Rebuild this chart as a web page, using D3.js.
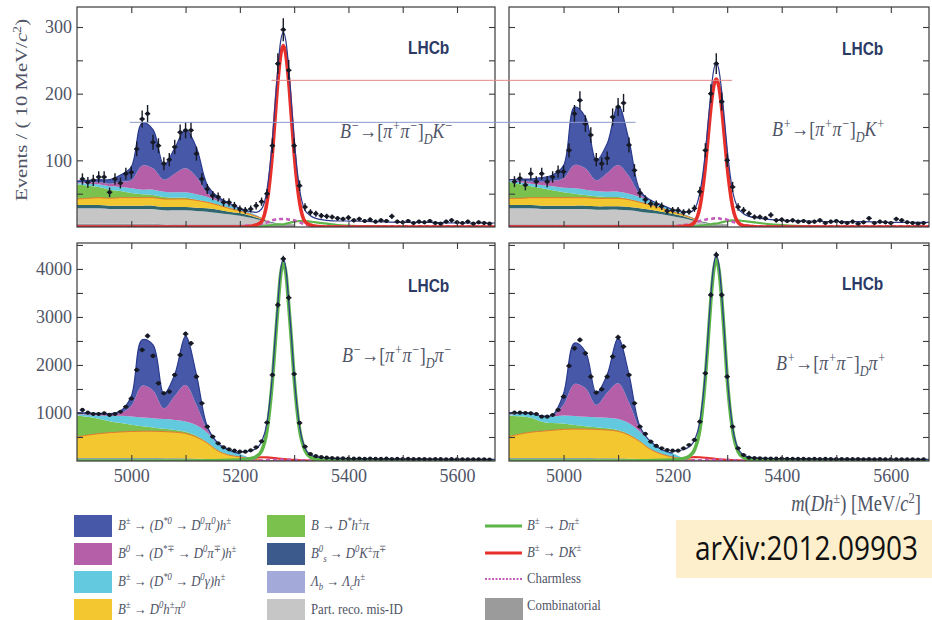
<!DOCTYPE html>
<html>
<head>
<meta charset="utf-8">
<script src="https://cdn.jsdelivr.net/npm/d3@7"></script>
<style>
body { margin: 0; background: #fff; }
svg { display: block; font-family: "Liberation Serif", "DejaVu Serif", serif; }
</style>
</head>
<body>
<svg id="chart" width="932" height="620"></svg>
<script>
var width = 932, height = 620;

// ---- binning / grids ----
var massRange = [4900, 5670];
var binMass = d3.range(4910, 5670, 10);   // 10 MeV bin centres
var bkgMass = [4900, 4920, 4940, 4960, 4980, 5000, 5020, 5040, 5060, 5080, 5100, 5120, 5140, 5160, 5180, 5200, 5220, 5240, 5260, 5280, 5300];
var peakMass = [4900, 5000, 5100, 5200, 5210, 5220, 5230, 5240, 5250, 5260, 5265, 5270, 5275, 5280, 5285, 5290, 5295, 5300, 5310, 5320, 5330, 5340, 5360, 5380, 5400, 5450, 5500, 5550, 5600, 5670];
var xTicks = [5000, 5100, 5200, 5300, 5400, 5500, 5600];
var xTickLabels = [5000, 5200, 5400, 5600];
var yTicksTop = [50, 100, 150, 200, 250, 300];
var yTicksBottom = [500, 1000, 1500, 2000, 2500, 3000, 3500, 4000, 4500];

// ---- B- -> [pi pi]_D K- (top left) ----
var tlData = [72, 67, 70, 75, 75, 52, 72, 66, 80, 82,
  117, 162, 170, 127, 122, 95, 101, 120, 142, 145,
  145, 110, 72, 57, 47, 45, 37, 37, 32, 27,
  25, 27, 32, 38, 50, 122, 245, 296, 235, 122,
  62, 30, 22, 20, 17, 16, 15, 13, 12, 14,
  10, 12, 9, 11, 8, 10, 9, 16, 8, 7,
  9, 6, 8, 7, 9, 6, 5, 8, 10, 7,
  6, 8, 5, 7, 6, 5];
var tlComb = [5, 5, 5, 5, 5, 5, 5, 5, 4, 4, 4, 4, 4, 4, 4, 4, 4, 4, 4, 4, 4];
var tlMisid = [23, 23, 23, 22, 22, 22, 22, 22, 21, 21, 21, 20, 19, 17, 15, 13, 10, 6, 2, 0, 0];
var tlBs = [5, 5, 5, 5, 5, 5, 5, 5, 5, 5, 5, 5, 5, 5, 4, 4, 3, 2, 1, 0, 0];
var tlYellow = [9, 10, 11, 11, 12, 12, 12, 12, 12, 12, 12, 11, 9, 7, 5, 3, 2, 1, 0, 0, 0];
var tlGreen = [22, 19, 16, 13, 10, 7, 5, 4, 3, 2, 2, 1, 1, 0, 0, 0, 0, 0, 0, 0, 0];
var tlCyan = [2, 3, 4, 5, 6, 7, 7, 8, 8, 8, 8, 8, 7, 6, 5, 3, 2, 1, 0, 0, 0];
var tlMagenta = [1, 2, 3, 4, 8, 12, 36, 32, 18, 28, 36, 26, 6, 2, 1, 0, 0, 0, 0, 0, 0];
var tlBlue = [2, 3, 4, 6, 10, 20, 64, 58, 22, 38, 58, 44, 12, 4, 2, 1, 0, 0, 0, 0, 0];
var tlSignal = [0, 0, 0, 0, 0, 1, 3, 8, 37, 111, 165, 218, 257, 272, 257, 218, 165, 111, 37, 8, 3, 1, 0, 0, 0, 0, 0, 0, 0, 0];
var tlCross = [0, 0, 0, 0, 0, 0, 0, 1, 2, 3, 4, 4, 4, 4, 5, 6, 7, 8, 9, 9, 8, 7, 5, 3, 2, 1, 0, 0, 0, 0];
var tlCharm = [1, 1, 1, 1, 2, 2, 3, 5, 7, 10, 11, 11, 12, 12, 12, 11, 11, 10, 7, 4, 2, 1, 1, 1, 1, 1, 1, 1, 1, 1];
var tlFit = [null, null, null, 28, 25, 23, 22, 27, 56, 131, 186, 238, 278, 292, 278, 239, 186, 133, 57, 25, 17, 13, 10, 9, 9, 8, 7, 7, 6, 6];

// ---- B+ -> [pi pi]_D K+ (top right) ----
var trData = [68, 73, 63, 80, 68, 80, 68, 75, 83, 83,
  115, 170, 190, 155, 138, 101, 95, 103, 165, 180,
  186, 123, 85, 51, 41, 35, 34, 31, 24, 25,
  25, 22, 23, 28, 53, 115, 200, 245, 188, 100,
  60, 30, 25, 20, 15, 15, 13, 18, 10, 11,
  9, 10, 8, 9, 7, 8, 10, 6, 8, 9,
  7, 6, 8, 5, 7, 13, 6, 8, 7, 6,
  12, 10, 7, 6, 5, 6];
var trComb = [4, 4, 4, 4, 4, 4, 4, 4, 4, 4, 4, 4, 4, 4, 4, 4, 4, 4, 4, 4, 4];
var trMisid = [24, 24, 24, 23, 23, 23, 23, 23, 22, 22, 22, 21, 19, 17, 15, 12, 9, 5, 2, 0, 0];
var trBs = [5, 5, 5, 5, 5, 5, 5, 5, 5, 5, 5, 5, 5, 5, 4, 4, 3, 2, 1, 0, 0];
var trYellow = [10, 10, 11, 12, 12, 12, 12, 12, 12, 12, 12, 11, 9, 7, 5, 3, 2, 1, 0, 0, 0];
var trGreen = [25, 21, 17, 14, 11, 8, 6, 4, 3, 2, 2, 1, 1, 0, 0, 0, 0, 0, 0, 0, 0];
var trCyan = [2, 3, 4, 5, 6, 7, 8, 8, 8, 8, 8, 8, 7, 6, 5, 3, 2, 1, 0, 0, 0];
var trMagenta = [0, 2, 3, 5, 8, 14, 35, 32, 16, 28, 40, 26, 4, 1, 0, 0, 0, 0, 0, 0, 0];
var trBlue = [1, 3, 4, 6, 9, 19, 87, 77, 30, 44, 90, 54, 6, 0, 0, 0, 0, 0, 0, 0, 0];
var trSignal = [0, 0, 0, 0, 0, 1, 2, 7, 30, 91, 135, 178, 210, 222, 210, 178, 135, 91, 30, 7, 2, 1, 0, 0, 0, 0, 0, 0, 0, 0];
var trCross = [0, 0, 0, 0, 0, 0, 0, 1, 2, 3, 4, 4, 5, 5, 6, 7, 8, 9, 10, 10, 9, 8, 6, 4, 3, 1, 0, 0, 0, 0];
var trCharm = [1, 1, 1, 1, 2, 3, 4, 6, 9, 11, 12, 12, 13, 13, 13, 12, 12, 11, 8, 5, 3, 2, 1, 1, 1, 1, 1, 1, 1, 1];
var trFit = [null, null, null, 26, 24, 23, 22, 27, 52, 112, 157, 200, 234, 246, 235, 203, 161, 117, 54, 28, 20, 16, 13, 11, 10, 9, 8, 8, 7, 7];

// ---- B- -> [pi pi]_D pi- (bottom left) ----
var blData = [1063, 1006, 979, 979, 994, 960, 979, 1026, 1130, 1300,
  1896, 2313, 2604, 2188, 1618, 1410, 1444, 1792, 2208, 2646,
  2451, 1757, 1201, 715, 507, 368, 285, 243, 215, 194,
  194, 222, 285, 410, 800, 1792, 3250, 4210, 3400, 1812,
  792, 299, 146, 100, 80, 70, 60, 55, 55, 50,
  48, 52, 45, 50, 47, 44, 48, 42, 45, 40,
  44, 38, 42, 40, 36, 40, 38, 35, 38, 34,
  36, 33, 35, 32, 34, 30];
var blComb = [20, 20, 20, 20, 20, 20, 20, 20, 20, 20, 20, 20, 20, 20, 20, 20, 20, 20, 20, 20, 20];
var blMisid = [30, 30, 30, 30, 30, 30, 30, 30, 28, 26, 24, 20, 16, 12, 8, 5, 3, 1, 0, 0, 0];
var blBs = [10, 10, 10, 10, 10, 10, 10, 10, 10, 10, 10, 9, 8, 6, 4, 2, 1, 0, 0, 0, 0];
var blYellow = [440, 480, 510, 530, 545, 555, 560, 560, 555, 545, 520, 450, 330, 170, 90, 60, 15, 5, 0, 0, 0];
var blGreen = [450, 380, 310, 240, 185, 140, 105, 80, 60, 45, 35, 25, 15, 10, 5, 2, 0, 0, 0, 0, 0];
var blCyan = [20, 40, 70, 110, 150, 170, 180, 190, 200, 210, 215, 220, 200, 130, 90, 60, 10, 2, 0, 0, 0];
var blMagenta = [10, 12, 15, 25, 60, 220, 660, 580, 224, 500, 759, 420, 60, 5, 2, 0, 0, 0, 0, 0, 0];
var blBlue = [30, 28, 25, 20, 40, 205, 960, 950, 303, 444, 1017, 636, 71, 17, 8, 3, 0, 0, 0, 0, 0];
var blSignal = [0, 0, 0, 20, 30, 50, 90, 210, 640, 1690, 2450, 3200, 3870, 4120, 3900, 3250, 2520, 1720, 660, 220, 80, 35, 15, 8, 5, 2, 1, 0, 0, 0];
var blCross = [0, 0, 0, 20, 35, 55, 70, 78, 75, 65, 58, 52, 46, 40, 35, 30, 26, 22, 16, 11, 8, 5, 2, 1, 0, 0, 0, 0, 0, 0];
var blCharm = [0, 0, 0, 2, 3, 5, 8, 12, 18, 22, 24, 25, 26, 26, 26, 25, 24, 22, 18, 12, 7, 4, 1, 0, 0, 0, 0, 0, 0, 0];
var blFit = [null, null, null, 190, 195, 215, 260, 400, 800, 1800, 2560, 3300, 3960, 4210, 3990, 3330, 2590, 1790, 720, 270, 130, 85, 60, 50, 45, 42, 40, 38, 35, 32];

// ---- B+ -> [pi pi]_D pi+ (bottom right) ----
var brData = [1007, 1007, 1000, 993, 979, 924, 924, 958, 1063, 1340,
  1979, 2347, 2521, 2243, 1757, 1424, 1493, 1757, 2174, 2576,
  2382, 1792, 1201, 715, 563, 403, 313, 264, 229, 215,
  215, 264, 333, 438, 819, 1826, 3458, 4292, 3458, 1757,
  715, 264, 125, 70, 60, 55, 52, 50, 48, 50,
  45, 47, 44, 46, 42, 45, 40, 43, 41, 38,
  42, 39, 37, 40, 36, 38, 35, 37, 34, 36,
  33, 35, 32, 34, 31, 33];
var brComb = [20, 20, 20, 20, 20, 20, 20, 20, 20, 20, 20, 20, 20, 20, 20, 20, 20, 20, 20, 20, 20];
var brMisid = [30, 30, 30, 30, 30, 30, 30, 30, 28, 26, 24, 20, 16, 12, 8, 5, 3, 1, 0, 0, 0];
var brBs = [10, 10, 10, 10, 10, 10, 10, 10, 10, 10, 10, 9, 8, 6, 4, 2, 1, 0, 0, 0, 0];
var brYellow = [450, 500, 540, 560, 580, 600, 605, 605, 600, 590, 565, 490, 360, 200, 110, 55, 20, 5, 0, 0, 0];
var brGreen = [440, 370, 300, 200, 150, 120, 85, 60, 45, 35, 25, 18, 12, 8, 4, 2, 0, 0, 0, 0, 0];
var brCyan = [20, 50, 80, 110, 140, 170, 185, 195, 210, 220, 230, 230, 200, 150, 90, 75, 15, 3, 0, 0, 0];
var brMagenta = [10, 12, 8, 5, 15, 220, 670, 600, 254, 520, 744, 430, 50, 2, 0, 0, 0, 0, 0, 0, 0];
var brBlue = [27, 15, 5, 5, 15, 230, 850, 760, 253, 379, 942, 583, 54, 2, 5, 0, 0, 0, 0, 0, 0];
var brSignal = [0, 0, 0, 20, 30, 50, 95, 230, 660, 1740, 2520, 3340, 3950, 4200, 3970, 3380, 2580, 1720, 640, 200, 75, 30, 12, 7, 4, 2, 1, 0, 0, 0];
var brCross = [0, 0, 0, 20, 35, 55, 70, 80, 78, 68, 60, 54, 48, 42, 36, 31, 27, 23, 17, 12, 8, 5, 2, 1, 0, 0, 0, 0, 0, 0];
var brCharm = [0, 0, 0, 2, 3, 5, 8, 12, 17, 21, 23, 24, 25, 25, 25, 24, 23, 21, 17, 12, 7, 4, 1, 0, 0, 0, 0, 0, 0, 0];
var brFit = [null, null, null, 210, 215, 240, 290, 430, 830, 1850, 2630, 3450, 4050, 4290, 4070, 3460, 2650, 1780, 700, 255, 125, 80, 60, 52, 48, 44, 41, 38, 36, 33];

// horizontal guide lines drawn on the slide (value, mass in left panel, mass in right panel)
var guideLevels = [220, 157];
var guideFrom = [5258, 4997];
var guideTo = [5309, 5132];
var guideColors = ["#e48a88", "#8d9bcc"];

// ---- styles ----
var layerKeys = ["comb", "misid", "bs", "dhpi0", "dstarhpi", "dstgamma", "b0dst", "dstpi0"];
var layerColor = {
  comb: "#9b9b9b", misid: "#c6c6c6", bs: "#2f6670", dhpi0: "#f3c72f",
  dstarhpi: "#7bc14e", dstgamma: "#63c9df", b0dst: "#b55fa9", dstpi0: "#4858a9"
};
var red = "#e8302b", green = "#5db54a", charmColor = "#c45cbc", fitColor = "#2a3a8c";
var textColor = "#4f5466";

var panels = [
  { x0: 77, x1: 495, y0: 7, y1: 227, yMax: 330, yTicks: yTicksTop, yLabelStep: 100, yLabels: true, xLabels: false,
    data: tlData, layers: [tlComb, tlMisid, tlBs, tlYellow, tlGreen, tlCyan, tlMagenta, tlBlue],
    signal: tlSignal, signalColor: red, cross: tlCross, crossColor: green, charm: tlCharm, fit: tlFit,
    decay: "B^{−}!{→[}π^{+}π^{−}!{]}_{D}K^{−}", decayPos: [340, 138], lhcbPos: [408, 54] },
  { x0: 509, x1: 929, y0: 7, y1: 227, yMax: 330, yTicks: yTicksTop, yLabelStep: 100, yLabels: false, xLabels: false,
    data: trData, layers: [trComb, trMisid, trBs, trYellow, trGreen, trCyan, trMagenta, trBlue],
    signal: trSignal, signalColor: red, cross: trCross, crossColor: green, charm: trCharm, fit: trFit,
    decay: "B^{+}!{→[}π^{+}π^{−}!{]}_{D}K^{+}", decayPos: [772, 136], lhcbPos: [842, 55] },
  { x0: 77, x1: 495, y0: 243, y1: 461, yMax: 4540, yTicks: yTicksBottom, yLabelStep: 1000, yLabels: true, xLabels: true,
    data: blData, layers: [blComb, blMisid, blBs, blYellow, blGreen, blCyan, blMagenta, blBlue],
    signal: blSignal, signalColor: green, cross: blCross, crossColor: red, charm: blCharm, fit: blFit,
    decay: "B^{−}!{→[}π^{+}π^{−}!{]}_{D}π^{−}", decayPos: [342, 362], lhcbPos: [408, 292] },
  { x0: 509, x1: 929, y0: 243, y1: 461, yMax: 4540, yTicks: yTicksBottom, yLabelStep: 1000, yLabels: false, xLabels: true,
    data: brData, layers: [brComb, brMisid, brBs, brYellow, brGreen, brCyan, brMagenta, brBlue],
    signal: brSignal, signalColor: green, cross: brCross, crossColor: red, charm: brCharm, fit: brFit,
    decay: "B^{+}!{→[}π^{+}π^{−}!{]}_{D}π^{+}", decayPos: [776, 370], lhcbPos: [842, 290] }
];

var svg = d3.select("#chart");
var guideLayer;

// text with ^{sup}, _{sub} and !{other style} pieces
function rich(sel, str, size, italic) {
  var parts = str.split(/(\^\{[^}]*\}|_\{[^}]*\}|!\{[^}]*\})/).filter(function(s) { return s.length; });
  var shift = 0;
  parts.forEach(function(s) {
    var target = 0, fs = size, ital = italic;
    if (s[0] === "^" && s[1] === "{") { target = -0.38 * size; fs = size * 0.68; s = s.slice(2, -1); }
    else if (s[0] === "_" && s[1] === "{") { target = 0.28 * size; fs = size * 0.68; s = s.slice(2, -1); }
    else if (s[0] === "!" && s[1] === "{") { ital = !italic; s = s.slice(2, -1); }
    sel.append("tspan").attr("dy", target - shift).attr("font-size", fs)
      .attr("font-style", ital ? "italic" : "normal").text(s);
    shift = target;
  });
}

panels.forEach(function(p, pi) {
  var x = d3.scaleLinear().domain(massRange).range([p.x0, p.x1]);
  var y = d3.scaleLinear().domain([0, p.yMax]).range([p.y1, p.y0]);
  p.x = x; p.y = y;
  var g = svg.append("g");

  svg.append("clipPath").attr("id", "clip" + pi).append("rect")
    .attr("x", p.x0).attr("y", p.y0).attr("width", p.x1 - p.x0).attr("height", p.y1 - p.y0);
  var plot = g.append("g").attr("clip-path", "url(#clip" + pi + ")");

  // stacked background components
  var rows = bkgMass.map(function(m, i) {
    var r = { mass: m };
    layerKeys.forEach(function(k, j) { r[k] = p.layers[j][i]; });
    return r;
  });
  var series = d3.stack().keys(layerKeys)(rows);
  var smooth = d3.curveCatmullRom.alpha(0.5);
  var area = d3.area()
    .x(function(d) { return x(d.data.mass); })
    .y0(function(d) { return y(d[0]); })
    .y1(function(d) { return y(d[1]); })
    .curve(smooth);
  plot.selectAll("path.layer").data(series).join("path")
    .attr("class", "layer")
    .attr("fill", function(d) { return layerColor[d.key]; })
    .attr("d", area);

  var edge = d3.line()
    .x(function(d) { return x(d.data.mass); })
    .y(function(d) { return y(d[1]); })
    .curve(smooth);
  // orange rim on the D0 h pi0 component
  plot.append("path").datum(series[3].filter(function(d) { return d.data.mass <= 5240; }))
    .attr("fill", "none").attr("stroke", "#e2782c").attr("stroke-width", 1).attr("d", edge);
  // total of the stack (fit line below the peak region)
  plot.append("path").datum(series[series.length - 1].filter(function(d) { return d.data.mass <= 5200; }))
    .attr("fill", "none").attr("stroke", fitColor).attr("stroke-width", 1.2).attr("d", edge);

  // peak region curves
  function curveRows(vals) {
    return peakMass.map(function(m, i) { return { mass: m, v: vals[i] }; });
  }
  var line = d3.line()
    .defined(function(d) { return d.v !== null; })
    .x(function(d) { return x(d.mass); })
    .y(function(d) { return y(d.v); })
    .curve(d3.curveMonotoneX);

  plot.append("path").datum(curveRows(p.cross))
    .attr("fill", "none").attr("stroke", p.crossColor).attr("stroke-width", 2.2).attr("d", line);
  plot.append("path").datum(curveRows(p.charm))
    .attr("fill", "none").attr("stroke", charmColor).attr("stroke-width", 2.6)
    .attr("stroke-dasharray", "4,3").attr("d", line);
  plot.append("path").datum(curveRows(p.signal))
    .attr("fill", "none").attr("stroke", p.signalColor).attr("stroke-width", 3.6).attr("d", line);
  plot.append("path").datum(curveRows(p.fit))
    .attr("fill", "none").attr("stroke", fitColor).attr("stroke-width", 1.2).attr("d", line);

  // data points with sqrt(N) error bars
  var pts = plot.append("g").selectAll("g").data(binMass.map(function(m, i) { return { mass: m, v: p.data[i] }; }))
    .join("g");
  pts.append("line")
    .attr("x1", function(d) { return x(d.mass); }).attr("x2", function(d) { return x(d.mass); })
    .attr("y1", function(d) { return y(d.v - Math.sqrt(d.v)); })
    .attr("y2", function(d) { return y(d.v + Math.sqrt(d.v)); })
    .attr("stroke", "#161a26").attr("stroke-width", 1.4);
  pts.append("line")
    .attr("x1", function(d) { return x(d.mass - 5); }).attr("x2", function(d) { return x(d.mass + 5); })
    .attr("y1", function(d) { return y(d.v); }).attr("y2", function(d) { return y(d.v); })
    .attr("stroke", "#161a26").attr("stroke-width", 1.4);
  pts.append("circle")
    .attr("cx", function(d) { return x(d.mass); }).attr("cy", function(d) { return y(d.v); })
    .attr("r", 2.1).attr("fill", "#161a26");

  // frame and inward ticks
  g.append("rect").attr("x", p.x0).attr("y", p.y0).attr("width", p.x1 - p.x0).attr("height", p.y1 - p.y0)
    .attr("fill", "none").attr("stroke", "#3a3a3a").attr("stroke-width", 1.2);

  var axB = g.append("g").attr("transform", "translate(0," + p.y1 + ")")
    .call(d3.axisBottom(x).tickValues(xTicks).tickSize(-6).tickPadding(5)
      .tickFormat(function(d) { return p.xLabels && xTickLabels.indexOf(d) >= 0 ? d : ""; }));
  g.append("g").attr("transform", "translate(0," + p.y0 + ")")
    .call(d3.axisTop(x).tickValues(xTicks).tickSize(-6).tickFormat(""));
  g.append("g").attr("transform", "translate(" + p.x0 + ",0)")
    .call(d3.axisLeft(y).tickValues(p.yTicks).tickSize(-6).tickPadding(5)
      .tickFormat(function(d) { return p.yLabels && d % p.yLabelStep === 0 ? d : ""; }));
  g.append("g").attr("transform", "translate(" + p.x1 + ",0)")
    .call(d3.axisRight(y).tickValues(p.yTicks).tickSize(-6).tickFormat(""));
  g.selectAll(".domain").remove();
  g.selectAll(".tick line").attr("stroke", "#3a3a3a").attr("stroke-width", 1.1);
  g.selectAll(".tick text").attr("font-family", "Liberation Serif, serif").attr("font-size", 18)
    .attr("fill", textColor);
  axB.selectAll(".tick text").attr("dy", "0.9em");

  // guide lines sit above the plots but below the labels
  if (pi === panels.length - 1) guideLayer = svg.append("g");
});

// guide lines across the two top panels
guideLevels.forEach(function(v, i) {
  guideLayer.append("line")
    .attr("x1", panels[0].x(guideFrom[i])).attr("x2", panels[1].x(guideTo[i]))
    .attr("y1", panels[0].y(v)).attr("y2", panels[0].y(v))
    .attr("stroke", guideColors[i]).attr("stroke-width", 1);
});

panels.forEach(function(p) {
  // LHCb tag
  svg.append("text").attr("transform", "translate(" + p.lhcbPos[0] + "," + p.lhcbPos[1] + ") scale(1,1.22)")
    .attr("font-family", "Liberation Sans, Arial, sans-serif").attr("font-weight", "bold")
    .attr("font-size", 15.5).attr("fill", "#2c3a66").text("LHCb");
  // decay label
  var dl = svg.append("text").attr("transform", "translate(" + p.decayPos[0] + "," + p.decayPos[1] + ") scale(1,1.15)")
    .attr("fill", textColor);
  rich(dl, p.decay, 18, true);
});

// y-axis title
var yt = svg.append("text").attr("transform", "translate(27,110) rotate(-90) scale(1.22,1)")
  .attr("text-anchor", "middle").attr("fill", textColor);
rich(yt, "Events / ( 10 MeV/!{c}^{2})", 17, false);

// x-axis title
var xt = svg.append("text").attr("transform", "translate(921,511) scale(1,1.2)")
  .attr("text-anchor", "end").attr("fill", textColor);
rich(xt, "!{m}(!{Dh}^{±}) [MeV/!{c}^{2}]", 18.5, false);

// ---- legend ----
var legendFills = [
  { label: "B^{±} → (D^{*0} → D^{0}π^{0})h^{±}", color: layerColor.dstpi0, italic: true },
  { label: "B^{0} → (D^{*∓} → D^{0}π^{∓})h^{±}", color: layerColor.b0dst, italic: true },
  { label: "B^{±} → (D^{*0} → D^{0}γ)h^{±}", color: layerColor.dstgamma, italic: true },
  { label: "B^{±} → D^{0}h^{±}π^{0}", color: layerColor.dhpi0, italic: true },
  { label: "B → D^{*}h^{±}π", color: layerColor.dstarhpi, italic: true },
  { label: "B^{0}_{s} → D^{0}K^{±}π^{∓}", color: "#3d5a8c", italic: true },
  { label: "Λ_{b} → Λ_{c}h^{±}", color: "#a3a9d8", italic: true },
  { label: "Part. reco. mis-ID", color: layerColor.misid, italic: false }
];
var legendLines = [
  { label: "B^{±} → Dπ^{±}", color: green, dash: null },
  { label: "B^{±} → DK^{±}", color: red, dash: null },
  { label: "Charmless", color: charmColor, dash: "2,1.5" }
];
var legendCols = [74, 267];
var legendRowTop = [515, 543, 571, 599];
var legendSize = 12.8;

var leg = svg.append("g");
legendFills.forEach(function(e, i) {
  var cx = legendCols[Math.floor(i / 4)], ty = legendRowTop[i % 4];
  leg.append("rect").attr("x", cx).attr("y", ty).attr("width", 38).attr("height", 22).attr("fill", e.color);
  var t = leg.append("text").attr("transform", "translate(" + (cx + 44) + "," + (ty + 15) + ") scale(1,1.15)")
    .attr("fill", textColor);
  rich(t, e.label, legendSize, e.italic);
});
legendLines.forEach(function(e, i) {
  var cy = [526, 553, 579][i];
  leg.append("line").attr("x1", 485).attr("x2", 522).attr("y1", cy).attr("y2", cy)
    .attr("stroke", e.color).attr("stroke-width", e.dash ? 2 : 3)
    .attr("stroke-dasharray", e.dash);
  var t = leg.append("text").attr("transform", "translate(527," + (cy + 4) + ") scale(1,1.15)")
    .attr("fill", textColor);
  rich(t, e.label, legendSize, e.label !== "Charmless");
});
leg.append("rect").attr("x", 485).attr("y", 598).attr("width", 38).attr("height", 22).attr("fill", layerColor.comb);
var ct = leg.append("text").attr("transform", "translate(527,610) scale(1,1.15)").attr("fill", textColor);
rich(ct, "Combinatorial", legendSize, false);

// arXiv reference box
svg.append("rect").attr("x", 676).attr("y", 520).attr("width", 256).attr("height", 58).attr("fill", "#fdefcb");
svg.append("text").attr("transform", "translate(695,560) scale(1,1.15)")
  .attr("font-family", "Open Sans, sans-serif").attr("font-size", 28).attr("fill", "#111")
  .text("arXiv:2012.09903");
</script>
</body>
</html>
